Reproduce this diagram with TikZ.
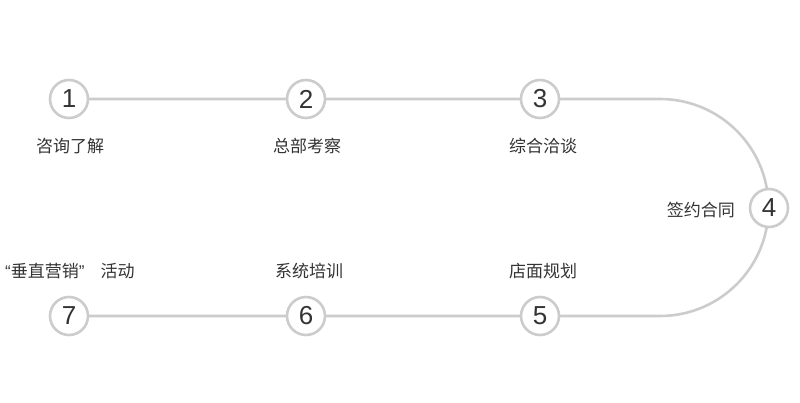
\documentclass[tikz,border=0pt]{standalone}
\usepackage{fontspec}
\setmainfont{Liberation Sans}
\newfontfamily\cjk{Noto Sans CJK SC}
\begin{document}
\begin{tikzpicture}[x=1pt,y=-1pt,
  stepcircle/.style={circle,draw=black!20,line width=2.6pt,fill=white,minimum size=38pt,inner sep=0pt,font=\fontsize{26}{26}\selectfont,text=black!80},
  steplabel/.style={font=\cjk\fontsize{17}{17}\selectfont,text=black!80,inner sep=0pt},
  linkpath/.style={draw=black!20,line width=2.6pt}]
\useasboundingbox (0,0) rectangle (800,402);
\coordinate (p1) at (69,99);
\coordinate (p2) at (306,99);
\coordinate (p3) at (540,99);
\coordinate (p4) at (769,208);
\coordinate (p5) at (540,316);
\coordinate (p6) at (306,316);
\coordinate (p7) at (69,316);
\coordinate (a1) at (660,99);
\draw[linkpath] (p1) -- (p2) -- (p3) -- (a1) arc[start angle=-90,end angle=90,radius=108.5] -- (p5) -- (p6) -- (p7);
\node[stepcircle] (c1) at (p1) {1};
\node[stepcircle] (c2) at (p2) {2};
\node[stepcircle] (c3) at (p3) {3};
\node[stepcircle] (c4) at (p4) {4};
\node[stepcircle] (c5) at (p5) {5};
\node[stepcircle] (c6) at (p6) {6};
\node[stepcircle] (c7) at (p7) {7};
\node[steplabel] (l1) at (70,146) {咨询了解};
\node[steplabel] (l2) at (307,146) {总部考察};
\node[steplabel] (l3) at (543,146) {综合洽谈};
\node[steplabel,anchor=east] (l4) at (735,210) {签约合同};
\node[steplabel] (l5) at (543,271) {店面规划};
\node[steplabel] (l6) at (309,271) {系统培训};
\node[steplabel,anchor=west] (l7) at (5,271) {{\rmfamily“}垂直营销{\rmfamily”}\hspace{16pt}活动};
\end{tikzpicture}
\end{document}
